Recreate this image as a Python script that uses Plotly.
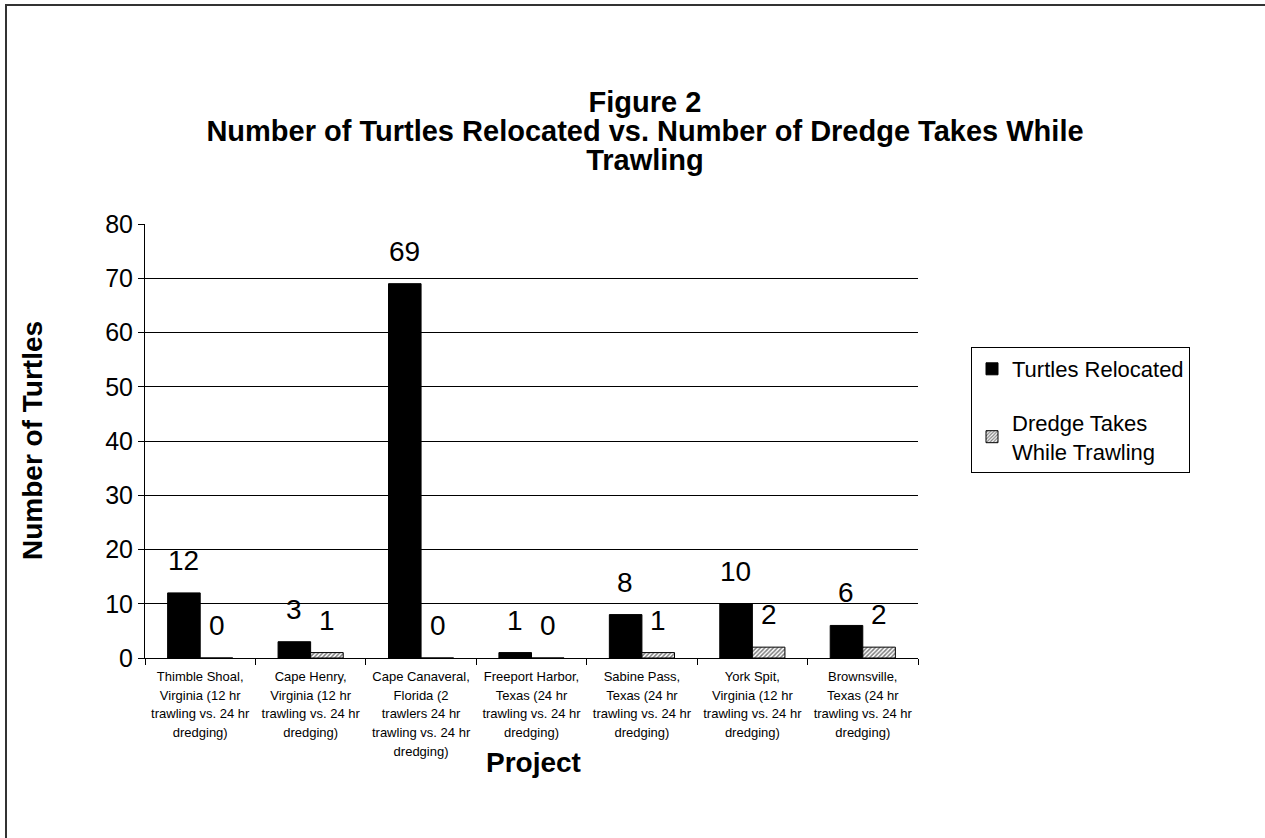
import plotly.graph_objects as go

categories = [
    "Thimble Shoal,<br>Virginia (12 hr<br>trawling vs. 24 hr<br>dredging)",
    "Cape Henry,<br>Virginia (12 hr<br>trawling vs. 24 hr<br>dredging)",
    "Cape Canaveral,<br>Florida (2<br>trawlers 24 hr<br>trawling vs. 24 hr<br>dredging)",
    "Freeport Harbor,<br>Texas (24 hr<br>trawling vs. 24 hr<br>dredging)",
    "Sabine Pass,<br>Texas (24 hr<br>trawling vs. 24 hr<br>dredging)",
    "York Spit,<br>Virginia (12 hr<br>trawling vs. 24 hr<br>dredging)",
    "Brownsville,<br>Texas (24 hr<br>trawling vs. 24 hr<br>dredging)",
]
turtles_relocated = [12, 3, 69, 1, 8, 10, 6]
dredge_takes = [0, 1, 0, 0, 1, 2, 2]
series_names = ["Turtles Relocated", "Dredge Takes<br>While Trawling"]
y_ticks = [0, 10, 20, 30, 40, 50, 60, 70, 80]
title_lines = ["Figure 2",
               "Number of Turtles Relocated vs. Number of Dredge Takes While",
               "Trawling"]

FONT = "Arial, 'Liberation Sans', sans-serif"

PL, PR, PT, PB = 145, 918, 224, 658
W, H = 1265, 838


def fx(px):
    return (px - PL) / (PR - PL)


def fy(py):
    return (PB - py) / (PB - PT)


def sized(text, size):
    return "<br>".join(f'<span style="font-size:{size}px">{t}</span>' for t in text.split("<br>"))


fig = go.Figure()
fig.add_trace(go.Bar(
    x=categories, y=turtles_relocated, name=series_names[0],
    marker=dict(color="black", line=dict(color="black", width=1)),
    legendgroup="a",
))
fig.add_trace(go.Bar(
    x=categories, y=dredge_takes, name=series_names[1],
    marker=dict(color="white", line=dict(color="black", width=1),
                pattern=dict(shape="/", fgcolor="black", bgcolor="white",
                             size=3, solidity=0.5, fillmode="overlay")),
    legendgroup="b",
))

annotations = []
for vals, shift in ((turtles_relocated, -16.5), (dredge_takes, 16.5)):
    for c, v in zip(categories, vals):
        annotations.append(dict(
            x=c, y=v, xref="x", yref="y", text=str(v), showarrow=False,
            xshift=shift, yanchor="bottom", yshift=15,
            font=dict(family=FONT, size=28, color="black"),
        ))

annotations.append(dict(
    text="<b>Number of Turtles</b>", xref="paper", yref="paper",
    x=fx(32), y=fy(441), textangle=-90, showarrow=False,
    xanchor="center", yanchor="middle",
    font=dict(family=FONT, size=28, color="black"),
))
annotations.append(dict(
    text="<b>Project</b>", xref="paper", yref="paper",
    x=fx(533), y=fy(762), showarrow=False,
    xanchor="center", yanchor="middle",
    font=dict(family=FONT, size=28, color="black"),
))

title_text = "<b>" + "<br>".join(f'<span style="font-size:29px">{t}</span>' for t in title_lines) + "</b>"

fig.update_layout(
    width=W, height=H,
    margin=dict(l=PL, r=W - PR, t=PT, b=H - PB),
    paper_bgcolor="white", plot_bgcolor="white",
    barmode="group", bargap=0.41, bargroupgap=0,
    font=dict(family=FONT, color="black"),
    title=dict(
        text=title_text,
        x=645 / W, xanchor="center", xref="container",
        y=1 - 112 / H, yanchor="top", yref="container",
        font=dict(family=FONT, size=22.3, color="black"),
    ),
    xaxis=dict(
        tickvals=categories, ticktext=[sized(c, 13) for c in categories],
        showline=True, linecolor="black", linewidth=1,
        ticks="outside", tickson="boundaries", ticklen=6, tickcolor="black",
        tickfont=dict(family=FONT, size=14.6, color="black"),
        ticklabelstandoff=4,
        showgrid=False,
    ),
    yaxis=dict(
        range=[0, 80], tickvals=y_ticks, showline=True, linecolor="black", linewidth=1,
        ticks="outside", ticklen=6, tickcolor="black",
        showgrid=True, gridcolor="black", gridwidth=1, zeroline=False,
        tickfont=dict(family=FONT, size=25, color="black"),
    ),
    legend=dict(
        x=fx(971), y=fy(347), xanchor="left", yanchor="top",
        bordercolor="black", borderwidth=1, bgcolor="white",
        font=dict(family=FONT, size=22, color="black"),
        tracegroupgap=22, traceorder="grouped",
    ),
    annotations=annotations,
    shapes=[dict(
        type="rect", xref="paper", yref="paper",
        x0=fx(6), x1=1.6, y0=-0.6, y1=fy(5),
        line=dict(color="#333333", width=2), fillcolor="rgba(0,0,0,0)", layer="below",
    )],
)

fig.write_html("out.html", config={"displayModeBar": False},
               post_script="document.body.style.margin='0';")
